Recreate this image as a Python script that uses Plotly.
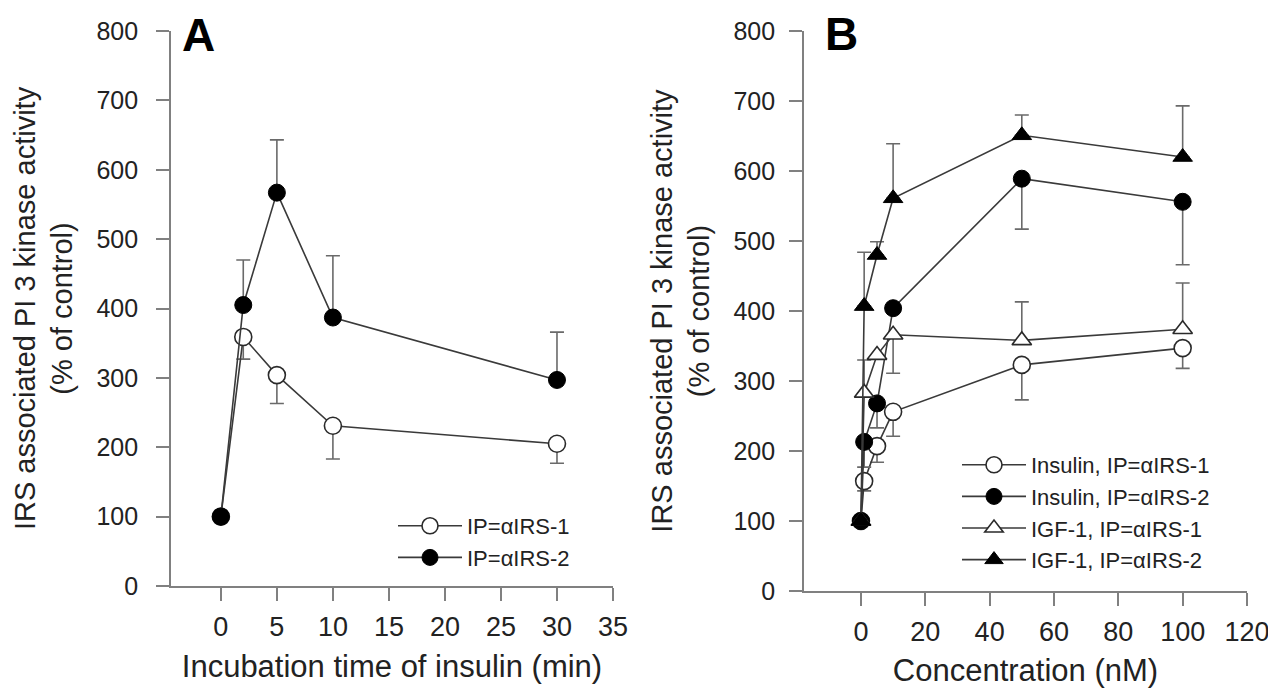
import plotly.graph_objects as go

# ---- Panel A data ----
time_min = [0, 2, 5, 10, 30]
a_irs1 = [100, 359, 304, 231, 205]
a_irs1_err = [0, 32, 41, 48, 28]          # drawn downward
a_irs2 = [100, 405, 567, 387, 297]
a_irs2_err = [0, 65, 76, 89, 69]          # drawn upward

# ---- Panel B data ----
conc_nM = [0, 1, 5, 10, 50, 100]
ins_irs1 = [100, 157, 207, 256, 323, 347]
ins_irs1_err = [0, 14, 23, 35, 50, 29]    # downward
ins_irs2 = [100, 213, 268, 404, 589, 556]
ins_irs2_err = [0, 36, 35, 0, 72, 90]     # downward
igf_irs1 = [100, 283, 337, 366, 358, 374]
igf_irs1_err_up = [0, 47, 0, 0, 55, 66]
igf_irs1_err_dn = [0, 0, 0, 55, 0, 0]
igf_irs2 = [100, 407, 480, 561, 651, 620]
igf_irs2_err = [0, 77, 19, 78, 29, 73]    # upward

x_ticks_a = [0, 5, 10, 15, 20, 25, 30, 35]
x_ticks_b = [0, 20, 40, 60, 80, 100, 120]
y_ticks = [0, 100, 200, 300, 400, 500, 600, 700, 800]

LINE = "#3a3a3a"
ERR = "#6a6a6a"
AXIS = "#808080"
TXT = "#222222"
FONT = "Liberation Sans, Arial, sans-serif"

# page body has an 8px margin, so the figure is slightly smaller and shifted
W, H, OFF = 1268, 680, 8


def px(xp):
    return (xp - OFF) / W


def py(yp):
    return 1 - (yp - OFF) / H


def err(up, dn):
    return dict(type="data", symmetric=False, array=up, arrayminus=dn,
                color=ERR, thickness=1.6, width=7)


zeros5 = [0] * 5
zeros6 = [0] * 6

fig = go.Figure()


def open_marker(sym):
    return dict(symbol=sym, size=17, color="white",
                line=dict(color="#2a2a2a", width=1.6))


def fill_marker(sym):
    return dict(symbol=sym, size=17, color="black",
                line=dict(color="black", width=1))


# Panel A
fig.add_trace(go.Scatter(x=time_min, y=a_irs1, mode="lines+markers",
                         name="IP=αIRS-1", xaxis="x", yaxis="y",
                         line=dict(color=LINE, width=1.6),
                         marker=open_marker("circle"),
                         error_y=err(zeros5, a_irs1_err),
                         cliponaxis=False, legend="legend"))
fig.add_trace(go.Scatter(x=time_min, y=a_irs2, mode="lines+markers",
                         name="IP=αIRS-2", xaxis="x", yaxis="y",
                         line=dict(color=LINE, width=1.6),
                         marker=fill_marker("circle"),
                         error_y=err(a_irs2_err, zeros5),
                         cliponaxis=False, legend="legend"))

# Panel B
fig.add_trace(go.Scatter(x=conc_nM, y=ins_irs1, mode="lines+markers",
                         name="Insulin, IP=αIRS-1", xaxis="x2", yaxis="y2",
                         line=dict(color=LINE, width=1.6),
                         marker=open_marker("circle"),
                         error_y=err(zeros6, ins_irs1_err),
                         cliponaxis=False, legend="legend2"))
fig.add_trace(go.Scatter(x=conc_nM, y=ins_irs2, mode="lines+markers",
                         name="Insulin, IP=αIRS-2", xaxis="x2", yaxis="y2",
                         line=dict(color=LINE, width=1.6),
                         marker=fill_marker("circle"),
                         error_y=err(zeros6, ins_irs2_err),
                         cliponaxis=False, legend="legend2"))
fig.add_trace(go.Scatter(x=conc_nM, y=igf_irs1, mode="lines+markers",
                         name="IGF-1, IP=αIRS-1", xaxis="x2", yaxis="y2",
                         line=dict(color=LINE, width=1.6),
                         marker=open_marker("triangle-up"),
                         error_y=err(igf_irs1_err_up, igf_irs1_err_dn),
                         cliponaxis=False, legend="legend2"))
fig.add_trace(go.Scatter(x=conc_nM, y=igf_irs2, mode="lines+markers",
                         name="IGF-1, IP=αIRS-2", xaxis="x2", yaxis="y2",
                         line=dict(color=LINE, width=1.6),
                         marker=fill_marker("triangle-up"),
                         error_y=err(igf_irs2_err, zeros6),
                         cliponaxis=False, legend="legend2"))

ytitle = "IRS associated PI 3 kinase activity<br>(% of control)"

axis_common = dict(showgrid=False, zeroline=False, showline=True,
                   linecolor=AXIS, linewidth=1.8, ticks="outside",
                   ticklen=13, tickwidth=1.6, tickcolor=AXIS,
                   automargin=False)
xfont = dict(size=27, color=TXT, family=FONT)
yfont = dict(size=25, color=TXT, family=FONT)

fig.update_layout(
    width=W, height=H, autosize=False,
    margin=dict(l=0, r=0, t=0, b=0, pad=0, autoexpand=False),
    paper_bgcolor="white", plot_bgcolor="white",
    font=dict(family=FONT, color=TXT),
    xaxis=dict(domain=[px(171), px(613)], range=[-4.45, 35],
               tickvals=x_ticks_a, anchor="y", tickfont=xfont,
               ticklabelstandoff=3,
               title=dict(text="Incubation time of insulin (min)",
                          font=dict(size=31, color=TXT), standoff=14),
               **axis_common),
    yaxis=dict(domain=[py(586), py(31)], range=[0, 800],
               tickvals=y_ticks, anchor="x", tickfont=yfont,
               ticklabelstandoff=13,
               title=dict(text=ytitle, font=dict(size=29, color=TXT)),
               **axis_common),
    xaxis2=dict(domain=[px(804), px(1247)], range=[-17.7, 120],
                tickvals=x_ticks_b, anchor="y2", tickfont=xfont,
                ticklabelstandoff=3,
                title=dict(text="Concentration (nM)",
                           font=dict(size=31, color=TXT), standoff=14),
                **axis_common),
    yaxis2=dict(domain=[py(591), py(31)], range=[0, 800],
                tickvals=y_ticks, anchor="x2", tickfont=yfont,
                ticklabelstandoff=9,
                title=dict(text=ytitle, font=dict(size=29, color=TXT)),
                **axis_common),
    legend=dict(x=px(393), y=py(505), xanchor="left", yanchor="top",
                bgcolor="rgba(0,0,0,0)", font=dict(size=22, color=TXT),
                itemwidth=64, tracegroupgap=0),
    legend2=dict(x=px(957), y=py(444), xanchor="left", yanchor="top",
                 bgcolor="rgba(0,0,0,0)", font=dict(size=22, color=TXT),
                 itemwidth=64, tracegroupgap=0),
    annotations=[
        dict(text="<b>A</b>", x=px(198), y=py(35), xanchor="center",
             yanchor="middle", xref="paper", yref="paper",
             showarrow=False, font=dict(size=46, color="black")),
        dict(text="<b>B</b>", x=px(841), y=py(34), xanchor="center",
             yanchor="middle", xref="paper", yref="paper",
             showarrow=False, font=dict(size=46, color="black")),
    ],
)

fig.write_html("out.html")
